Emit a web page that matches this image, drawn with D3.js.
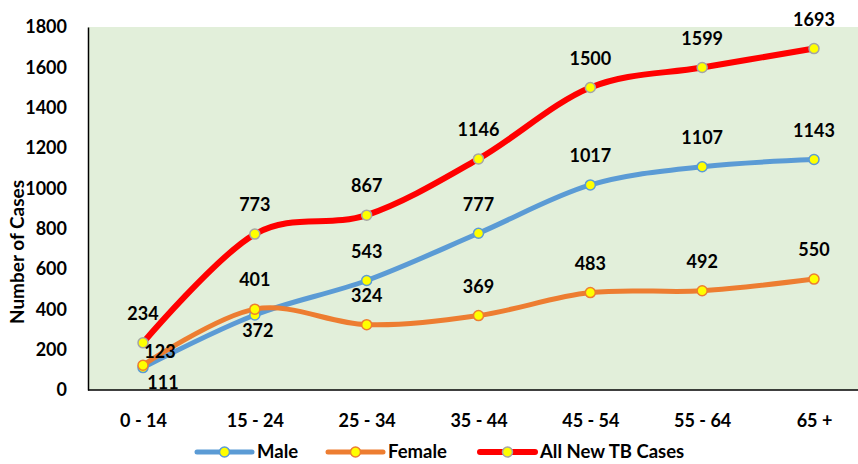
<html>
  <head>
    <style>
      body { margin: 0; background: #fff; }
      text { font-family: Lato, "Open Sans", sans-serif; font-weight: bold; fill: #000; }
    </style>
  </head>
  <body>
    <script src="https://d3js.org/d3.v7.min.js"></script>
    <script>
    var width = 858, height = 464;

    // age groups and case counts
    var ageGroups = ["0 - 14", "15 - 24", "25 - 34", "35 - 44", "45 - 54", "55 - 64", "65 +"];
    var male = [111, 372, 543, 777, 1017, 1107, 1143];
    var female = [123, 401, 324, 369, 483, 492, 550];
    var allCases = [234, 773, 867, 1146, 1500, 1599, 1693];
    var yTicks = [0, 200, 400, 600, 800, 1000, 1200, 1400, 1600, 1800];

    var series = [
      { name: "Male", values: male, color: "#5B9BD5", dot: "#5B9BD5", w: 5 },
      { name: "Female", values: female, color: "#ED7D31", dot: "#ED7D31", w: 5 },
      { name: "All New TB Cases", values: allCases, color: "#FF0000", dot: "#A5A5A5", w: 6 }
    ];

    var svg = d3.select("body")
        .append("svg")
        .attr("width", width)
        .attr("height", height);

    var plotLeft = 88, plotRight = 858, plotTop = 27, plotBottom = 390;

    var x = d3.scalePoint()
        .domain(ageGroups)
        .range([143, 814]);

    var y = d3.scaleLinear()
        .domain([0, 1800])
        .range([plotBottom, plotTop]);

    // green plot background
    svg.append("rect")
       .attr("x", plotLeft)
       .attr("y", plotTop)
       .attr("width", plotRight - plotLeft)
       .attr("height", plotBottom - plotTop)
       .attr("fill", "#E2EFDA");

    // y axis
    var yAxis = svg.append("g")
        .attr("transform", "translate(" + plotLeft + ",0)")
        .call(d3.axisLeft(y).tickValues(yTicks).tickFormat(d3.format("d")).tickSize(0).tickPadding(21));
    yAxis.select(".domain").attr("stroke", "#000").attr("stroke-width", 1.5);
    yAxis.selectAll("text").style("font-size", "18px").style("font-family", "Lato").style("font-weight", "bold");

    // x axis
    var xAxis = svg.append("g")
        .attr("transform", "translate(0," + plotBottom + ")")
        .call(d3.axisBottom(x).tickSize(0).tickPadding(24));
    xAxis.select(".domain").attr("d", "M" + plotLeft + ",0H" + plotRight).attr("stroke", "#000").attr("stroke-width", 1.5);
    xAxis.selectAll("text").style("font-size", "18px").style("font-family", "Lato").style("font-weight", "bold");

    // axis title
    svg.append("text")
       .attr("transform", "translate(17," + 252 + ") rotate(-90)")
       .attr("dy", "0.35em")
       .style("text-anchor", "middle")
       .style("font-size", "19px")
       .text("Number of Cases");

    var line = d3.line()
        .x(function(d, i) { return x(ageGroups[i]); })
        .y(function(d) { return y(d); })
        .curve(d3.curveCardinal.tension(0));

    series.forEach(function(s) {
      svg.append("path")
         .datum(s.values)
         .attr("d", line)
         .attr("fill", "none")
         .attr("stroke", s.color)
         .attr("stroke-width", s.w)
         .attr("stroke-linecap", "round");
    });

    series.forEach(function(s) {
      svg.append("g").selectAll("circle")
         .data(s.values)
         .enter().append("circle")
         .attr("cx", function(d, i) { return x(ageGroups[i]); })
         .attr("cy", function(d) { return y(d); })
         .attr("r", 5)
         .attr("fill", "#FFFF00")
         .attr("stroke", s.dot)
         .attr("stroke-width", 1.5);
    });

    // data labels: above by default, a few moved where they would collide
    function labelOffset(name, i) {
      if (name == "Male" && i == 0) return [20, 15];
      if (name == "Male" && i == 1) return [3, 16];
      if (name == "Female" && i == 0) return [17, -13];
      return [0, -29];
    }

    series.forEach(function(s) {
      svg.append("g").selectAll("text")
         .data(s.values)
         .enter().append("text")
         .attr("x", function(d, i) { return x(ageGroups[i]) + labelOffset(s.name, i)[0]; })
         .attr("y", function(d, i) { return y(d) + labelOffset(s.name, i)[1]; })
         .attr("dy", "0.35em")
         .style("text-anchor", "middle")
         .style("font-size", "18px")
         .text(function(d) { return d; });
    });

    // legend
    var legendX = [197, 328, 480];
    var legend = svg.append("g").selectAll("g")
        .data(series)
        .enter().append("g")
        .attr("transform", function(d, i) { return "translate(" + legendX[i] + ",452)"; });

    legend.append("line")
        .attr("x1", 0).attr("x2", 55)
        .attr("stroke", function(d) { return d.color; })
        .attr("stroke-width", function(d) { return d.w; })
        .attr("stroke-linecap", "round");

    legend.append("circle")
        .attr("cx", 27.5)
        .attr("r", 5)
        .attr("fill", "#FFFF00")
        .attr("stroke", function(d) { return d.dot; })
        .attr("stroke-width", 1.5);

    legend.append("text")
        .attr("x", 60)
        .attr("dy", "0.35em")
        .style("font-size", "18.5px")
        .text(function(d) { return d.name; });
    </script>
  </body>
</html>
